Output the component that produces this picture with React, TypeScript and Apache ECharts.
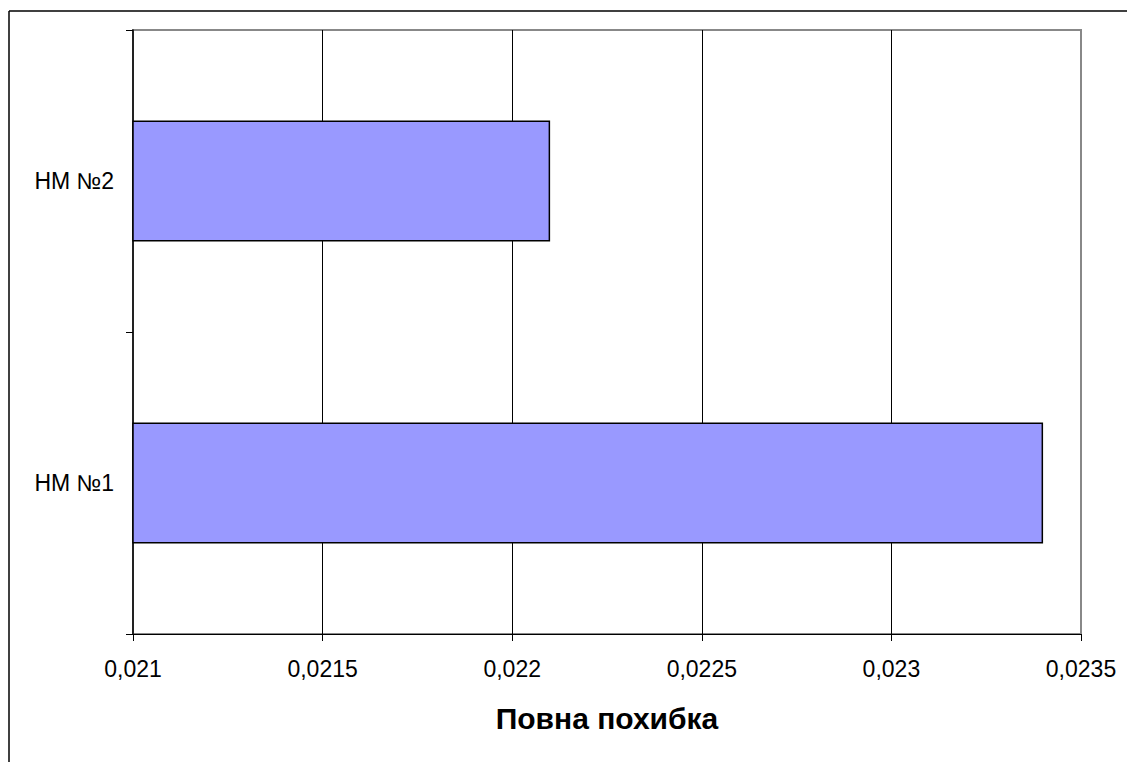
import React, { useEffect, useRef } from "react";
import * as echarts from "echarts";

const categories = ["НМ №1", "НМ №2"];
const values = [0.0234, 0.0221];
const axisMin = 0.021;
const axisMax = 0.0235;
const axisStep = 0.0005;
const axisTitle = "Повна похибка";

export default function App() {
  const ref = useRef<HTMLDivElement>(null);
  useEffect(() => {
    if (!ref.current) return;
    const chart = echarts.init(ref.current, null, { renderer: "svg" });
    const font = "'Liberation Sans', Arial, sans-serif";
    chart.setOption({
      animation: false,
      backgroundColor: "#ffffff",
      textStyle: { fontFamily: font },
      grid: {
        left: 133,
        top: 30,
        right: 46,
        bottom: 128,
        show: true,
        borderColor: "#888888",
        borderWidth: 2,
        backgroundColor: "transparent",
      },
      xAxis: {
        type: "value",
        min: axisMin,
        max: axisMax,
        interval: axisStep,
        name: axisTitle,
        nameLocation: "middle",
        nameGap: 69,
        nameTextStyle: { fontSize: 30, fontWeight: "bold", color: "#000", fontFamily: font },
        axisLine: { show: true, lineStyle: { color: "#000", width: 1 } },
        axisTick: { show: true, length: 7, lineStyle: { color: "#000" } },
        axisLabel: {
          margin: 23,
          fontSize: 23,
          color: "#000",
          fontFamily: font,
          formatter: (v: number) => String(parseFloat(v.toFixed(6))).replace(".", ","),
        },
        splitLine: { show: true, showMinLine: false, showMaxLine: false, lineStyle: { color: "#000", width: 1 } },
      },
      yAxis: {
        type: "category",
        data: categories,
        axisLine: { show: true, lineStyle: { color: "#000", width: 1.5 } },
        axisTick: { show: true, length: 7, lineStyle: { color: "#000" } },
        axisLabel: { margin: 19, fontSize: 23, color: "#000", fontFamily: font, padding: [0, 0, 6, 0] },
        splitLine: { show: false },
      },
      series: [
        {
          type: "bar",
          data: values,
          barWidth: "40%",
          itemStyle: { color: "#9999FF", borderColor: "#000", borderWidth: 1.5 },
        },
      ],
      graphic: [
        { type: "line", shape: { x1: 9, y1: 11, x2: 1127, y2: 11 }, style: { stroke: "#000", lineWidth: 1.5 } },
        { type: "line", shape: { x1: 9, y1: 11, x2: 9, y2: 762 }, style: { stroke: "#000", lineWidth: 1.5 } },
      ],
    });
    return () => chart.dispose();
  }, []);
  return (
    <div
      ref={ref}
      style={{ position: "fixed", left: 0, top: 0, width: 1127, height: 762 }}
    />
  );
}
